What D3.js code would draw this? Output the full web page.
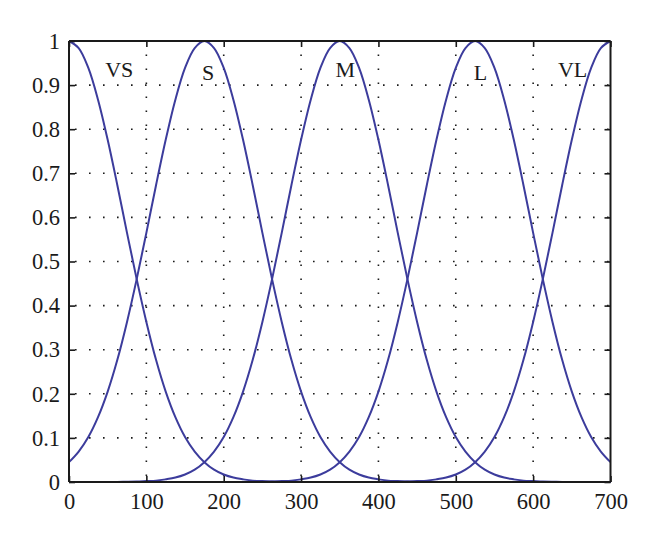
<!DOCTYPE html>
<html><head><meta charset="utf-8">
<script src="https://cdn.jsdelivr.net/npm/d3@7"></script>
<style>body{margin:0;background:#fff}</style>
</head><body><svg id="c" width="660" height="539"></svg>
<script>
// sample positions (x) shared by all membership curves
const xs = [0,12.5,25,37.5,50,62.5,75,87.5,100,112.5,125,137.5,150,162.5,175,187.5,200,212.5,225,237.5,250,262.5,275,287.5,300,312.5,325,337.5,350,362.5,375,387.5,400,412.5,425,437.5,450,462.5,475,487.5,500,512.5,525,537.5,550,562.5,575,587.5,600,612.5,625,637.5,650,662.5,675,687.5,700];
const vs = [1,0.984,0.939,0.867,0.776,0.673,0.565,0.460,0.363,0.277,0.205,0.147,0.102,0.069,0.045,0.028,0.017,0.010,0.006,0.003,0.002,0.001,0.0005,0.0002,
  0,0,0,0,0,0,0,0,0,0,0,0,0,0,0,0,0,0,0,0,0,0,0,0,0,0,0,0,0,0,0,0,0];
const s  = [0.045,0.069,0.102,0.147,0.205,0.277,0.363,0.460,0.565,0.673,0.776,0.867,0.939,0.984,1,0.984,0.939,0.867,0.776,0.673,0.565,0.460,0.363,0.277,0.205,0.147,0.102,0.069,0.045,0.028,0.017,0.010,0.006,0.003,0.002,0.001,0.0005,0.0002,
  0,0,0,0,0,0,0,0,0,0,0,0,0,0,0,0,0,0,0];
const m  = [0,0,0,0,0,0.0002,0.0005,0.001,0.002,0.003,0.006,0.010,0.017,0.028,0.045,0.069,0.102,0.147,0.205,0.277,0.363,0.460,0.565,0.673,0.776,0.867,0.939,0.984,1,0.984,0.939,0.867,0.776,0.673,0.565,0.460,0.363,0.277,0.205,0.147,0.102,0.069,0.045,0.028,0.017,0.010,0.006,0.003,0.002,0.001,0.0005,0.0002,0,0,0,0,0];
const l  = [0,0,0,0,0,0,0,0,0,0,0,0,0,0,0,0,0,0,0,0.0002,0.0005,0.001,0.002,0.003,0.006,0.010,0.017,0.028,0.045,0.069,0.102,0.147,0.205,0.277,0.363,0.460,0.565,0.673,0.776,0.867,0.939,0.984,1,0.984,0.939,0.867,0.776,0.673,0.565,0.460,0.363,0.277,0.205,0.147,0.102,0.069,0.045];
const vl = [0,0,0,0,0,0,0,0,0,0,0,0,0,0,0,0,0,0,0,0,0,0,0,0,0,0,0,0,0,0,0,0,0,0.0002,0.0005,0.001,0.002,0.003,0.006,0.010,0.017,0.028,0.045,0.069,0.102,0.147,0.205,0.277,0.363,0.460,0.565,0.673,0.776,0.867,0.939,0.984,1];
const seriesNames = ["VS","S","M","L","VL"];
const labelX = [65,180,357,532,651];
const labelY = [0.918,0.912,0.918,0.912,0.918];
const xTicks = [0,100,200,300,400,500,600,700];
const yTicks = [0,0.1,0.2,0.3,0.4,0.5,0.6,0.7,0.8,0.9,1];
const yTickLabels = ["0","0.1","0.2","0.3","0.4","0.5","0.6","0.7","0.8","0.9","1"];
</script>
<script>
const series = [vs, s, m, l, vl];
const svg = d3.select("#c");
const mg = {left:69, right:610.5, top:41, bottom:482};
const x = d3.scaleLinear().domain([0,700]).range([mg.left, mg.right]);
const y = d3.scaleLinear().domain([0,1]).range([mg.bottom, mg.top]);
const font = "'Liberation Serif','Times New Roman',serif";
const ink = "#1a1a1a";
const lineColor = "#3c3c9c";

// grid
const g = svg.append("g");
g.selectAll(".gx").data(xTicks.slice(1,-1)).join("line")
  .attr("x1", d=>x(d)).attr("x2", d=>x(d)).attr("y1", mg.bottom).attr("y2", mg.top)
  .attr("stroke", ink).attr("stroke-width", 1.6).attr("stroke-dasharray", "1.6 12.4").attr("stroke-dashoffset", -6);
g.selectAll(".gy").data(yTicks.slice(1,-1)).join("line")
  .attr("x1", mg.left).attr("x2", mg.right).attr("y1", d=>y(d)).attr("y2", d=>y(d))
  .attr("stroke", ink).attr("stroke-width", 1.6).attr("stroke-dasharray", "1.6 12.4").attr("stroke-dashoffset", -6);

// curves
const line = d3.line().x((d,i)=>x(xs[i])).y(d=>y(d)).curve(d3.curveCatmullRom.alpha(0.5));
svg.append("g").selectAll("path").data(series).join("path")
  .attr("d", d=>line(d)).attr("fill","none").attr("stroke", lineColor).attr("stroke-width", 2);

// axes (box with inward ticks)
const tl = 6;
const axB = svg.append("g").attr("transform", `translate(0,${mg.bottom})`)
  .call(d3.axisBottom(x).tickValues(xTicks).tickSize(-tl).tickFormat(d3.format("d")).tickPadding(11));
const axT = svg.append("g").attr("transform", `translate(0,${mg.top})`)
  .call(d3.axisTop(x).tickValues(xTicks).tickSize(-tl).tickFormat(""));
const axL = svg.append("g").attr("transform", `translate(${mg.left},0)`)
  .call(d3.axisLeft(y).tickValues(yTicks).tickSize(-tl).tickFormat((d,i)=>yTickLabels[i]).tickPadding(9));
const axR = svg.append("g").attr("transform", `translate(${mg.right},0)`)
  .call(d3.axisRight(y).tickValues(yTicks).tickSize(-tl).tickFormat(""));
[axB,axT,axL,axR].forEach(a=>{
  a.select(".domain").attr("stroke", ink).attr("stroke-width", 2);
  a.selectAll(".tick line").attr("stroke", ink).attr("stroke-width", 1.6);
  a.selectAll("text").attr("fill", ink).style("font-family", font).style("font-size","22.5px");
});
axB.selectAll(".domain").attr("d", `M${mg.left},0H${mg.right}`);
axT.selectAll(".domain").attr("d", `M${mg.left},0H${mg.right}`);
axL.selectAll(".domain").attr("d", `M0,${mg.bottom}V${mg.top}`);
axR.selectAll(".domain").attr("d", `M0,${mg.bottom}V${mg.top}`);

// series labels
svg.append("g").selectAll("text").data(seriesNames).join("text")
  .attr("x",(d,i)=>x(labelX[i])).attr("y",(d,i)=>y(labelY[i]))
  .attr("text-anchor","middle").attr("fill", ink)
  .style("font-family", font).style("font-size","22px").text(d=>d);
</script>
</body></html>
